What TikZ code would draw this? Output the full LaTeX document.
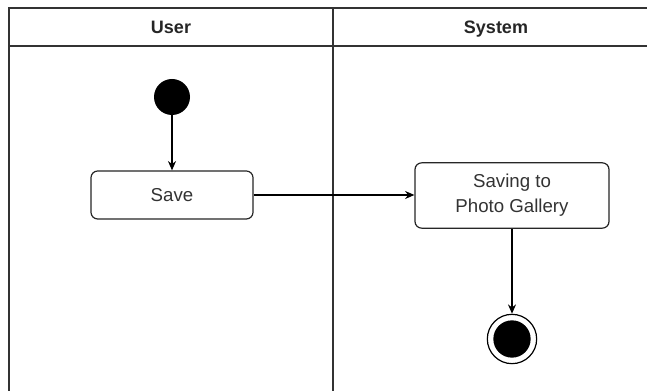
\documentclass[tikz,border=0pt]{standalone}
\usepackage{fontspec}
\setmainfont{Liberation Sans}
\usetikzlibrary{arrows.meta}
\definecolor{frame}{HTML}{333333}
\definecolor{txt}{HTML}{333333}
\tikzset{
  lane/.style={draw=frame, line width=1pt},
  act/.style={draw=black!85, line width=0.9pt, rounded corners=5pt, fill=white,
    text=txt, font=\fontsize{14}{18.5}\selectfont, align=center},
  flow/.style={draw=black, line width=0.9pt, -{Stealth[length=7pt,width=6pt]}},
  head/.style={font=\bfseries\fontsize{13.5}{16}\selectfont, text=black!85,
    text height=10pt, text depth=3pt, inner sep=0pt}
}
\begin{document}
\begin{tikzpicture}[x=0.75pt,y=-0.75pt]
  \useasboundingbox (0,0) rectangle (647,391);
  % swimlane frame
  \draw[lane] (647,8) -- (9,8) -- (9,391);
  \draw[lane] (9,46) -- (647,46);
  \draw[lane] (333,8) -- (333,391);
  \node[head] (hu) at (171,28.5) {User};
  \node[head] (hs) at (496,28.5) {System};
  % initial node
  \node[circle, fill=black, minimum size=27pt, inner sep=0pt] (start) at (172,97) {};
  % actions
  \node[act, minimum width=121.5pt, minimum height=36pt] (save) at (172,195) {Save};
  \node[act, minimum width=145.5pt, minimum height=49pt] (gal) at (512,195.5) {Saving to\\Photo Gallery};
  % final node
  \node[circle, draw=black, line width=0.9pt, minimum size=37pt, inner sep=0pt] (stop) at (512,339) {};
  \node[circle, fill=black, minimum size=28pt, inner sep=0pt] (stopin) at (512,339) {};
  % flows
  \draw[flow] (start) -- (save);
  \draw[flow] (save.east) -- (save.east -| gal.west);
  \draw[flow] (gal) -- (stop);
\end{tikzpicture}
\end{document}
